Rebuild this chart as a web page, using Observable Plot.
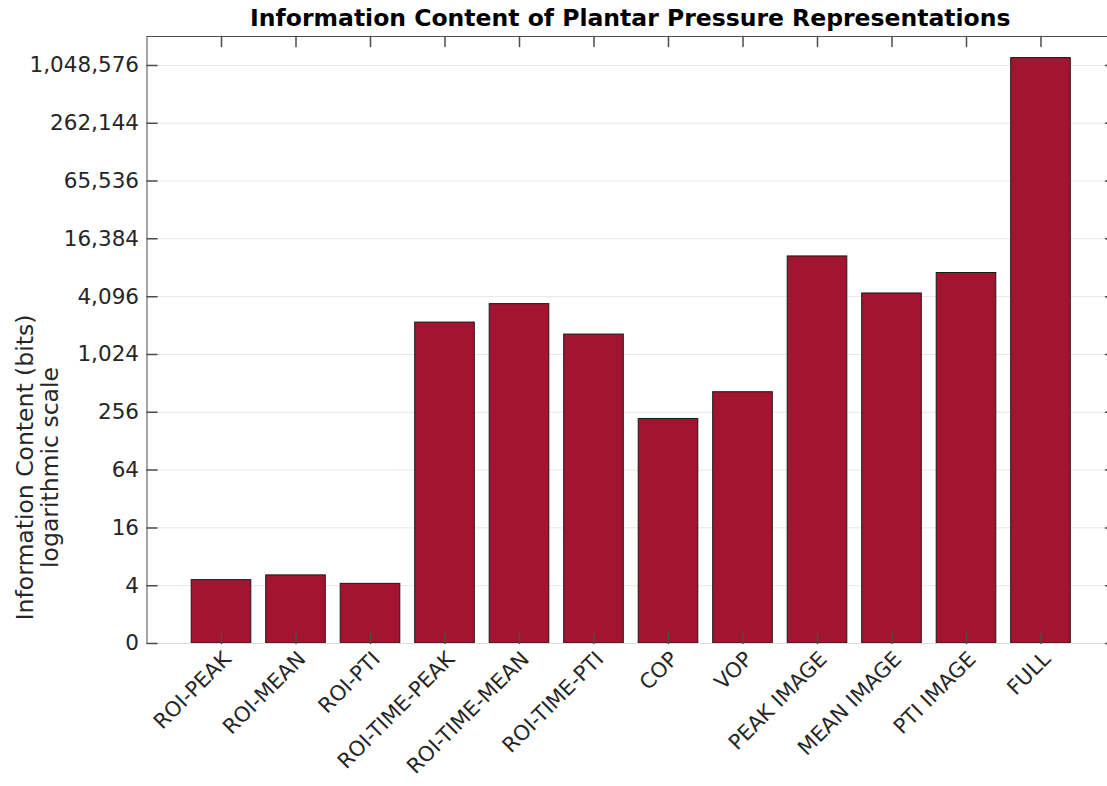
<!DOCTYPE html>
<html><head><meta charset="utf-8">
<script src="https://cdn.jsdelivr.net/npm/d3@7"></script>
<script src="https://cdn.jsdelivr.net/npm/@observablehq/plot@0.6"></script>
<style>body{margin:0;overflow:hidden;background:#fff;} svg{max-width:none !important;}</style>
</head><body><div id="chart"></div>
<script>
const categories = ["ROI-PEAK","ROI-MEAN","ROI-PTI","ROI-TIME-PEAK","ROI-TIME-MEAN","ROI-TIME-PTI","COP","VOP","PEAK IMAGE","MEAN IMAGE","PTI IMAGE","FULL"];
const values = [4.57, 5.12, 4.18, 2200, 3425, 1650, 218, 414, 10740, 4420, 7220, 1250000];
const yTicks = [1, 4, 16, 64, 256, 1024, 4096, 16384, 65536, 262144, 1048576];
const title = "Information Content of Plantar Pressure Representations";
const yLabel = ["Information Content (bits)", "logarithmic scale"];

const data = categories.map((c, i) => ({name: c, value: values[i]}));
const fmt = d => d === 1 ? "0" : d3.format(",")(d);
const tickShape = {draw(ctx, l) { ctx.moveTo(0, 0); ctx.lineTo(0, -l); }};
const axisColor = "#4d4d4d";

const chart = Plot.plot({
  width: 1115, height: 786,
  marginTop: 36, marginBottom: 143, marginLeft: 146.5, marginRight: 0,
  style: {fontFamily: "DejaVu Sans", fontSize: "21px", color: "#262626", background: "#fff"},
  x: {type: "band", domain: categories, paddingInner: 0.2, paddingOuter: 0.6, round: false, label: null},
  y: {type: "log", base: 2, domain: [1, 2 ** 21], label: null},
  marks: [
    Plot.gridY(yTicks, {stroke: "#e6e6e6", strokeOpacity: 1}),
    Plot.barY(data, {x: "name", y1: 1, y2: "value", fill: "#A2142F", stroke: "#1a1a1a", strokeWidth: 1}),
    Plot.frame({stroke: axisColor}),
    Plot.ruleY([1], {stroke: "#dcdcdc"}),
    Plot.vector(yTicks, {y: d => d, frameAnchor: "left", rotate: 90, length: 10, anchor: "start", shape: tickShape, stroke: axisColor}),
    Plot.vector(yTicks, {y: d => d, frameAnchor: "right", rotate: -90, length: 10, anchor: "start", shape: tickShape, stroke: axisColor}),
    Plot.vector(categories, {x: d => d, frameAnchor: "top", rotate: 180, length: 10, anchor: "start", shape: tickShape, stroke: axisColor}),
    Plot.vector(categories, {x: d => d, frameAnchor: "bottom", rotate: 0, length: 10, anchor: "start", shape: tickShape, stroke: axisColor}),
    Plot.axisY(yTicks, {tickSize: 0, tickPadding: 8, tickFormat: fmt, fontSize: 21.5}),
    Plot.axisX({tickSize: 0, tickRotate: -45, tickPadding: 12, dx: 6, fontSize: 21}),
    Plot.text([title], {frameAnchor: "top", textAnchor: "middle", lineAnchor: "middle", dy: -18.4, dx: -1, fontWeight: "bold", fontSize: 23.5, fill: "#000"}),
    Plot.text([yLabel.join("\n")], {frameAnchor: "left", textAnchor: "middle", lineAnchor: "middle", rotate: -90, dx: -109.75, dy: 127.5, fontSize: 23.5, lineHeight: 1.085})
  ]
});
document.getElementById("chart").appendChild(chart);
</script>
</body></html>
